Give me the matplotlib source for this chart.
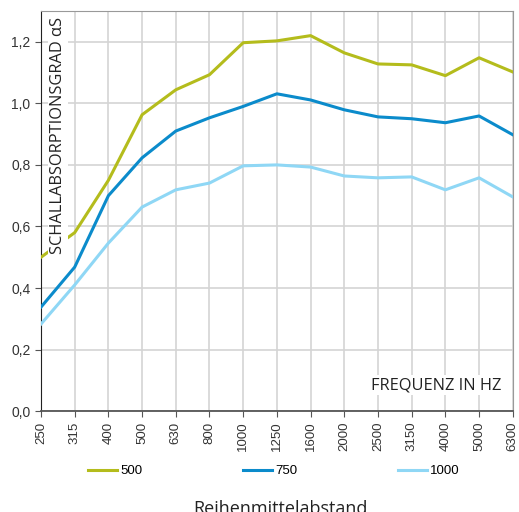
import matplotlib
matplotlib.use("Agg")
import matplotlib.pyplot as plt

plt.rcParams['font.family'] = ['Liberation Sans', 'DejaVu Sans']

freqs = ["250", "315", "400", "500", "630", "800", "1000", "1250", "1600",
         "2000", "2500", "3150", "4000", "5000", "6300"]
yticks = [0.0, 0.2, 0.4, 0.6, 0.8, 1.0, 1.2]
ytick_labels = ["0,0", "0,2", "0,4", "0,6", "0,8", "1,0", "1,2"]

s500 = [0.50, 0.58, 0.75, 0.963, 1.044, 1.093, 1.197, 1.203, 1.22,
        1.164, 1.128, 1.125, 1.09, 1.148, 1.102]
s750 = [0.338, 0.468, 0.70, 0.823, 0.91, 0.953, 0.99, 1.031, 1.011,
        0.979, 0.956, 0.95, 0.937, 0.959, 0.898]
s1000 = [0.283, 0.41, 0.546, 0.663, 0.719, 0.741, 0.797, 0.80, 0.793,
         0.764, 0.758, 0.761, 0.719, 0.758, 0.696]

series = [("500", s500, "#b4bc1c"), ("750", s750, "#0b8bcb"), ("1000", s1000, "#8fd7f5")]

fig = plt.figure(figsize=(5.19, 5.12), dpi=100)
ax = fig.add_axes([0.079, 0.197, 0.909, 0.7815])

x = list(range(len(freqs)))
for name, vals, col in series:
    ax.plot(x, vals, color=col, lw=2.2, label=name, zorder=3)

ax.set_xlim(0, len(freqs) - 1)
ax.set_ylim(0, 1.3)
ax.set_xticks(x)
ax.set_xticklabels(freqs, rotation=90, fontsize=9.5, color="#333333")
ax.set_yticks(yticks)
ax.set_yticklabels(ytick_labels, fontsize=10, color="#333333")
ax.grid(True, color="#d4d4d4", lw=1.2, zorder=0)
ax.tick_params(axis="both", length=4, color="#555555")

for side in ["top", "right"]:
    ax.spines[side].set_color("#999999")
ax.spines["left"].set_color("#222222")
ax.spines["bottom"].set_color("#555555")
ax.spines["bottom"].set_linewidth(1.3)

ax.text(0.036, 0.985, "SCHALLABSORPTIONSGRAD αS", transform=ax.transAxes,
        rotation=90, ha="center", va="top", fontsize=11.8, color="#222222",
        family=["Open Sans", "DejaVu Sans"],
        bbox=dict(facecolor="white", edgecolor="none", pad=1.5), zorder=5)
ax.text(0.976, 0.045, "FREQUENZ IN HZ", transform=ax.transAxes,
        ha="right", va="bottom", fontsize=11.8, color="#222222",
        family=["Open Sans", "DejaVu Sans"],
        bbox=dict(facecolor="white", edgecolor="none", pad=1.5), zorder=5)

fig.legend(loc="center", bbox_to_anchor=(0.528, 0.08), ncol=3, frameon=False,
           fontsize=9.5, handlelength=2.2, columnspacing=7.6, handletextpad=0.25)
fig.text(0.54, 0.006, "Reihenmittelabstand", ha="center", va="center",
         fontsize=13, color="#222222", family=["Open Sans", "DejaVu Sans"])

fig.savefig("out.png", dpi=100)
